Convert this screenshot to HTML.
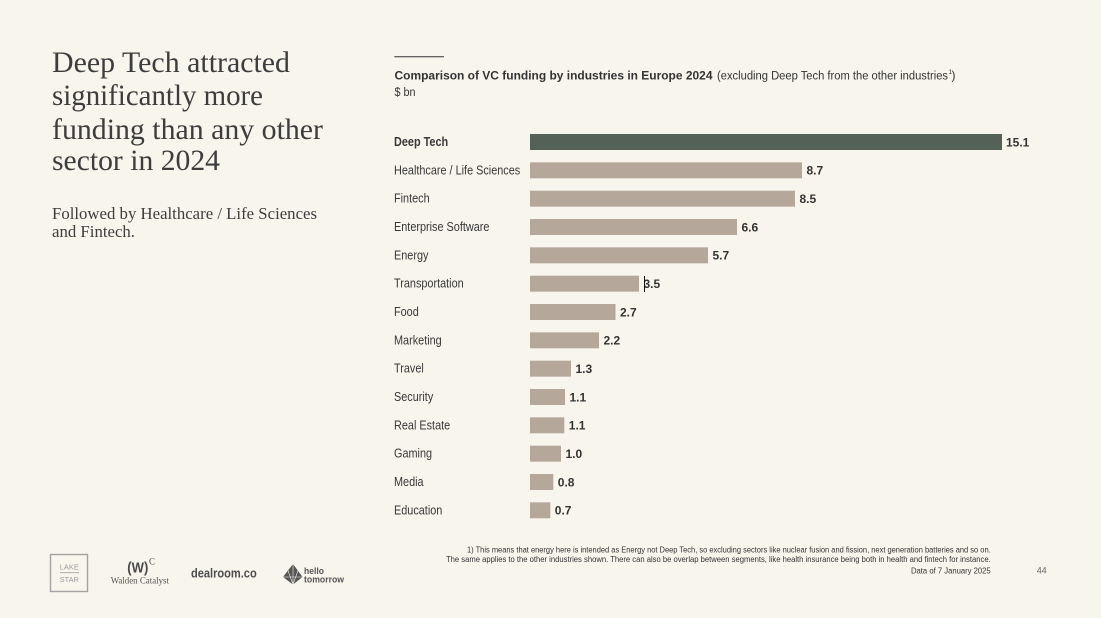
<!DOCTYPE html>
<html>
<head>
<meta charset="utf-8">
<style>
html,body{margin:0;padding:0;background:#f8f5ed;}
svg{display:block;}
</style>
</head>
<body>
<svg width="1101" height="618" viewBox="0 0 1101 618" xmlns="http://www.w3.org/2000/svg">
<rect x="0" y="0" width="1101" height="618" fill="#f8f5ed"/>

<!-- Left headline -->
<g font-family="'Liberation Serif', serif" fill="#3d3d3d">
  <text x="52" y="72" font-size="30" textLength="238" lengthAdjust="spacingAndGlyphs">Deep Tech attracted</text>
  <text x="52" y="105" font-size="30" textLength="211" lengthAdjust="spacingAndGlyphs">significantly more</text>
  <text x="52" y="139" font-size="30" textLength="271" lengthAdjust="spacingAndGlyphs">funding than any other</text>
  <text x="52" y="170" font-size="30" textLength="168" lengthAdjust="spacingAndGlyphs">sector in 2024</text>
  <text x="52" y="219" font-size="17" textLength="265" lengthAdjust="spacingAndGlyphs">Followed by Healthcare / Life Sciences</text>
  <text x="52" y="237" font-size="17" textLength="83" lengthAdjust="spacingAndGlyphs">and Fintech.</text>
</g>

<!-- Chart header -->
<line x1="394.3" y1="56.7" x2="444" y2="56.7" stroke="#333" stroke-width="1"/>
<g font-family="'Liberation Sans', sans-serif" fill="#333">
  <text x="394.5" y="79.3" font-size="12.3" font-weight="bold" textLength="318" lengthAdjust="spacingAndGlyphs">Comparison of VC funding by industries in Europe 2024</text>
  <text x="717" y="79.3" font-size="12.3" textLength="231" lengthAdjust="spacingAndGlyphs">(excluding Deep Tech from the other industries</text>
  <text x="948.5" y="74" font-size="6.5">1</text>
  <text x="951.5" y="79.3" font-size="12.3" textLength="4" lengthAdjust="spacingAndGlyphs">)</text>
  <text x="394.5" y="96" font-size="12.3" textLength="21" lengthAdjust="spacingAndGlyphs">$ bn</text>
</g>

<!-- Category labels (condensed) -->
<g font-family="'Liberation Sans', sans-serif" font-size="12.5" fill="#383838" transform="scale(0.87,1)">
  <text x="452.9" y="146" font-weight="bold">Deep Tech</text>
  <text x="452.9" y="174.3">Healthcare / Life Sciences</text>
  <text x="452.9" y="202.7">Fintech</text>
  <text x="452.9" y="231">Enterprise Software</text>
  <text x="452.9" y="259.3">Energy</text>
  <text x="452.9" y="287.7">Transportation</text>
  <text x="452.9" y="316">Food</text>
  <text x="452.9" y="344.3">Marketing</text>
  <text x="452.9" y="372.7">Travel</text>
  <text x="452.9" y="401">Security</text>
  <text x="452.9" y="429.3">Real Estate</text>
  <text x="452.9" y="457.7">Gaming</text>
  <text x="452.9" y="486">Media</text>
  <text x="452.9" y="514.3">Education</text>
</g>

<!-- Bars -->
<g>
  <rect x="530" y="134" width="472" height="16" fill="#546157"/>
  <g fill="#b5a89b">
    <rect x="530" y="162.33" width="272" height="16"/>
    <rect x="530" y="190.67" width="265" height="16"/>
    <rect x="530" y="219" width="207" height="16"/>
    <rect x="530" y="247.33" width="178" height="16"/>
    <rect x="530" y="275.67" width="109" height="16"/>
    <rect x="530" y="304" width="85.5" height="16"/>
    <rect x="530" y="332.33" width="69" height="16"/>
    <rect x="530" y="360.67" width="41" height="16"/>
    <rect x="530" y="389" width="35" height="16"/>
    <rect x="530" y="417.33" width="34.3" height="16"/>
    <rect x="530" y="445.67" width="31" height="16"/>
    <rect x="530" y="474" width="23.3" height="16"/>
    <rect x="530" y="502.33" width="20.3" height="16"/>
  </g>
</g>

<!-- Value labels -->
<g font-family="'Liberation Sans', sans-serif" font-size="12" font-weight="bold" fill="#333">
  <text x="1006" y="146.3">15.1</text>
  <text x="806.5" y="174.6">8.7</text>
  <text x="799.5" y="203">8.5</text>
  <text x="741.5" y="231.3">6.6</text>
  <text x="712.5" y="259.6">5.7</text>
  <text x="643.5" y="288">3.5</text>
  <text x="620" y="316.3">2.7</text>
  <text x="603.5" y="344.6">2.2</text>
  <text x="575.5" y="373">1.3</text>
  <text x="569.5" y="401.3">1.1</text>
  <text x="568.8" y="429.6">1.1</text>
  <text x="565.5" y="458">1.0</text>
  <text x="557.8" y="486.3">0.8</text>
  <text x="554.8" y="514.6">0.7</text>
</g>
<!-- text cursor artifact -->
<line x1="644.5" y1="276" x2="644.5" y2="292" stroke="#111" stroke-width="1"/>

<!-- Footnotes -->
<g font-family="'Liberation Sans', sans-serif" font-size="8" fill="#333">
  <text x="467" y="552.3" textLength="523.7" lengthAdjust="spacingAndGlyphs">1) This means that energy here is intended as Energy not Deep Tech, so excluding sectors like nuclear fusion and fission, next generation batteries and so on.</text>
  <text x="446" y="561.8" textLength="544.7" lengthAdjust="spacingAndGlyphs">The same applies to the other industries shown. There can also be overlap between segments, like health insurance being both in health and fintech for instance.</text>
  <text x="911" y="573.7" textLength="79.7" lengthAdjust="spacingAndGlyphs">Data of 7 January 2025</text>
</g>
<text x="1036.7" y="573.7" font-family="'Liberation Sans', sans-serif" font-size="9" fill="#666" textLength="10" lengthAdjust="spacingAndGlyphs">44</text>

<!-- Logos -->
<g>
  <rect x="50.5" y="554.5" width="37" height="37" fill="none" stroke="#a3a3a3" stroke-width="1.4"/>
  <text x="69.3" y="569.3" font-family="'Liberation Sans', sans-serif" font-size="7.5" fill="#9a9a9a" text-anchor="middle" textLength="19" lengthAdjust="spacingAndGlyphs">LAKE</text>
  <line x1="60" y1="572.7" x2="79" y2="572.7" stroke="#a3a3a3" stroke-width="0.8"/>
  <text x="69.3" y="582" font-family="'Liberation Sans', sans-serif" font-size="7.5" fill="#9a9a9a" text-anchor="middle" textLength="19" lengthAdjust="spacingAndGlyphs">STAR</text>

  <text x="127.3" y="572.5" font-family="'Liberation Sans', sans-serif" font-size="15" font-weight="bold" fill="#4a4a4a" textLength="21" lengthAdjust="spacingAndGlyphs">(W)</text>
  <text x="149" y="564.5" font-family="'Liberation Serif', serif" font-size="9" fill="#4a4a4a">C</text>
  <text x="110.7" y="583.3" font-family="'Liberation Serif', serif" font-size="9.5" fill="#555" textLength="58.3" lengthAdjust="spacingAndGlyphs">Walden Catalyst</text>

  <text x="191" y="577.5" font-family="'Liberation Sans', sans-serif" font-size="12.5" font-weight="bold" fill="#4d4d4d" textLength="65.7" lengthAdjust="spacingAndGlyphs">dealroom.co</text>

  <g fill="#555">
    <polygon points="293,564 283,577 293,584.5 302.5,577"/>
  </g>
  <g stroke="#f8f5ed" stroke-width="0.6" fill="none">
    <line x1="293" y1="564" x2="293" y2="584.5"/>
    <line x1="283" y1="577" x2="302.5" y2="577"/>
    <line x1="288" y1="570.5" x2="293" y2="584.5"/>
    <line x1="298" y1="570.5" x2="293" y2="584.5"/>
  </g>
  <text x="304" y="574" font-family="'Liberation Sans', sans-serif" font-size="9" font-weight="bold" fill="#555" textLength="20" lengthAdjust="spacingAndGlyphs">hello</text>
  <text x="304" y="582.5" font-family="'Liberation Sans', sans-serif" font-size="9" font-weight="bold" fill="#555" textLength="40" lengthAdjust="spacingAndGlyphs">tomorrow</text>
</g>
</svg>
</body>
</html>
